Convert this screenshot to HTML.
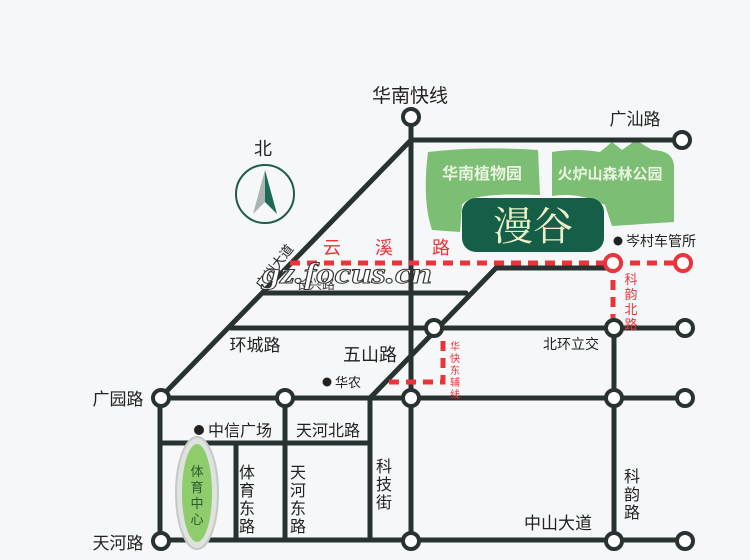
<!DOCTYPE html>
<html><head><meta charset="utf-8"><style>
html,body{margin:0;padding:0;background:#f6f7f8;}
svg{display:block;font-family:"Liberation Sans","Noto Sans CJK SC",sans-serif;}
</style></head><body>
<svg width="750" height="560" viewBox="0 0 750 560" xmlns="http://www.w3.org/2000/svg">
<rect width="750" height="560" fill="#f6f7f8"/>
<path d="M428,152 Q480,146 538,150 L540,195 Q470,192 462,205 L460,232 L432,230 Q422,200 428,152Z" fill="#7cbe74"/>
<path d="M552,152 Q575,148 600,152 L612,142 L622,150 L636,140 L652,150 Q672,150 674,165 L674,222 L612,226 L605,205 Q580,192 552,196Z" fill="#7cbe74"/>
<rect x="462" y="198" width="142" height="54" rx="14" fill="#155e48"/>
<text x="533" y="240" font-size="40" fill="#eef0c8" text-anchor="middle" font-family="'Noto Serif CJK SC',serif">漫谷</text>
<text x="482" y="179" font-size="16" fill="#eaf3e0" text-anchor="middle" font-weight="bold">华南植物园</text>
<text x="610" y="179" font-size="15" fill="#eaf3e0" text-anchor="middle" font-weight="bold">火炉山森林公园</text>
<g stroke="#283230" stroke-width="5" fill="none" stroke-linecap="round">
<line x1="411" y1="118" x2="411" y2="540"/>
<line x1="411" y1="140" x2="682" y2="140"/>
<line x1="411" y1="140" x2="160" y2="398"/>
<line x1="160" y1="398" x2="685" y2="398"/>
<line x1="160" y1="540" x2="685" y2="540"/>
<line x1="160" y1="398" x2="160" y2="540"/>
<line x1="264" y1="293" x2="466" y2="293"/>
<line x1="231" y1="328" x2="685" y2="328"/>
<polyline points="370,540 370,398 496,268 608,268"/>
<line x1="614" y1="328" x2="614" y2="540"/>
<line x1="160" y1="443" x2="370" y2="443"/>
<line x1="285" y1="398" x2="285" y2="540"/>
<line x1="236" y1="443" x2="236" y2="540"/>
</g>
<g stroke="#e8343a" stroke-width="5" fill="none" stroke-dasharray="10,7">
<line x1="290" y1="263" x2="683" y2="263"/>
<line x1="613" y1="263" x2="613" y2="328"/>
<polyline points="389,382 443,382 443,338" />
</g>
<g fill="#fff" stroke="#283230" stroke-width="4">
<circle cx="411" cy="117" r="8"/><circle cx="682" cy="140" r="8"/>
<circle cx="434" cy="328" r="8"/><circle cx="614" cy="328" r="8"/><circle cx="685" cy="328" r="8"/>
<circle cx="161" cy="398" r="8"/><circle cx="285" cy="398" r="8"/><circle cx="411" cy="398" r="8"/><circle cx="614" cy="398" r="8"/><circle cx="685" cy="398" r="8"/>
<circle cx="161" cy="541" r="8"/><circle cx="411" cy="541" r="8"/><circle cx="614" cy="541" r="8"/><circle cx="685" cy="541" r="8"/>
</g>
<g fill="#fff" stroke="#e8343a" stroke-width="4">
<circle cx="613" cy="263" r="8"/><circle cx="683" cy="263" r="8"/>
</g>
<circle cx="265" cy="194" r="29" fill="none" stroke="#1d5c4c" stroke-width="2"/>
<polygon points="265,170 253,214 265,202" fill="#aab4b0"/>
<polygon points="265,170 277,214 265,202" fill="#1d6a58"/>
<text x="263" y="155" font-size="18" text-anchor="middle" fill="#222">北</text>
<ellipse cx="197" cy="493" rx="21" ry="56" fill="#dfe2df" stroke="#c4cac6" stroke-width="2"/>
<ellipse cx="197" cy="493" rx="15" ry="49" fill="#8fcc6c"/>
<text font-size="13" fill="#2d5a30" text-anchor="middle"><tspan x="197" y="476">体</tspan><tspan x="197" y="492">育</tspan><tspan x="197" y="508">中</tspan><tspan x="197" y="524">心</tspan></text>
<g fill="#222" font-size="17">
<text x="410" y="102" font-size="19" text-anchor="middle">华南快线</text>
<text x="635" y="125" text-anchor="middle">广汕路</text>
<text x="255" y="351" text-anchor="middle">环城路</text>
<text x="370" y="361" font-size="18" text-anchor="middle">五山路</text>
<text x="118" y="405" text-anchor="middle">广园路</text>
<text x="118" y="549" text-anchor="middle">天河路</text>
<text x="558" y="529" text-anchor="middle">中山大道</text>
<text x="571" y="349" font-size="14" text-anchor="middle">北环立交</text>
<text x="328" y="436" font-size="16" text-anchor="middle">天河北路</text>
<text x="208" y="436" font-size="16">中信广场</text>
<circle cx="199" cy="430" r="5" fill="#222"/>
<text x="335" y="387" font-size="13">华农</text>
<circle cx="327" cy="382" r="4.5" fill="#222"/>
<text x="626" y="246" font-size="14">岑村车管所</text>
<circle cx="618" cy="241" r="4.5" fill="#222"/>
<text x="296" y="289" font-size="13" fill="#444">长兴路</text>
</g>
<g fill="#222" font-size="16" text-anchor="middle">
<text><tspan x="247" y="478">体</tspan><tspan x="247" y="496">育</tspan><tspan x="247" y="514">东</tspan><tspan x="247" y="532">路</tspan></text>
<text><tspan x="298" y="478">天</tspan><tspan x="298" y="496">河</tspan><tspan x="298" y="514">东</tspan><tspan x="298" y="532">路</tspan></text>
<text><tspan x="384" y="472">科</tspan><tspan x="384" y="490">技</tspan><tspan x="384" y="508">街</tspan></text>
<text><tspan x="632" y="482">科</tspan><tspan x="632" y="500">韵</tspan><tspan x="632" y="518">路</tspan></text>
</g>
<g fill="#e8343a" text-anchor="middle">
<text y="254" font-size="18"><tspan x="332">云</tspan><tspan x="384">溪</tspan><tspan x="441">路</tspan></text>
<text font-size="13"><tspan x="631" y="284">科</tspan><tspan x="631" y="299">韵</tspan><tspan x="631" y="314">北</tspan><tspan x="631" y="329">路</tspan></text>
<text font-size="10"><tspan x="455" y="350">华</tspan><tspan x="455" y="362">快</tspan><tspan x="455" y="374">东</tspan><tspan x="455" y="386">辅</tspan><tspan x="455" y="398">线</tspan></text>
</g>
<text x="0" y="0" font-size="13" fill="#222" transform="translate(262,290) rotate(-52)">广州大道</text>
<text x="262" y="283" font-size="30" font-style="italic" font-weight="bold" fill="#fff" stroke="#333" stroke-width="1" font-family="'Liberation Serif',serif" textLength="170" lengthAdjust="spacingAndGlyphs">gz.focus.cn</text>
</svg>
</body></html>
